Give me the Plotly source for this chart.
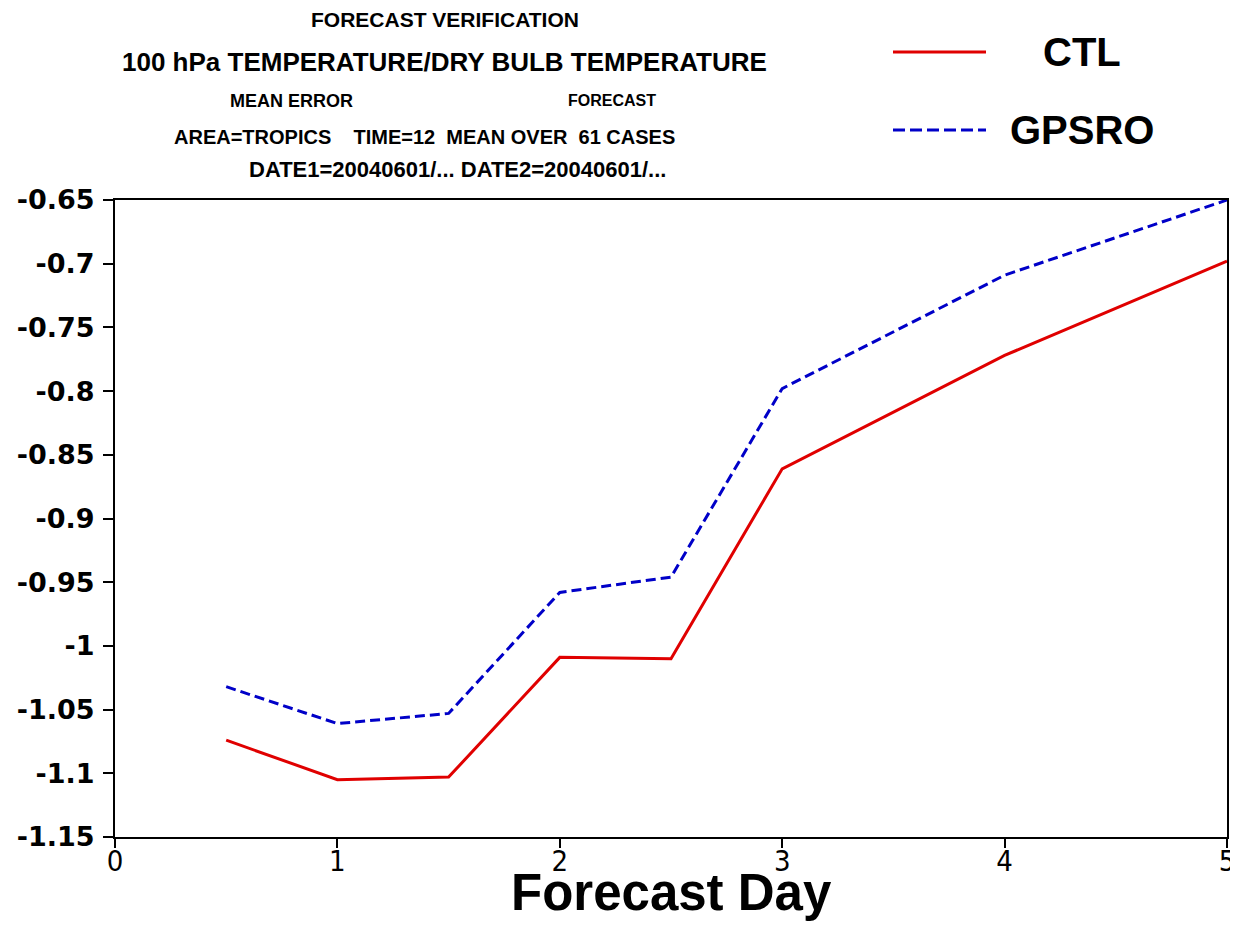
import plotly.graph_objects as go

# forecast day and mean error values
dias = [0.5, 1, 1.5, 2, 2.5, 3, 4, 5]
ctl = [-1.074, -1.105, -1.103, -1.009, -1.010, -0.861, -0.772, -0.698]
gpsro = [-1.032, -1.061, -1.053, -0.958, -0.946, -0.798, -0.709, -0.650]

yticks = [-0.65, -0.7, -0.75, -0.8, -0.85, -0.9, -0.95, -1, -1.05, -1.1, -1.15]
xticks = [0, 1, 2, 3, 4, 5]

# texto, centro x, centro y (pixels da tela), tamanho
titulo = [
    ("FORECAST VERIFICATION", 445, 20, 21),
    ("100 hPa TEMPERATURE/DRY BULB TEMPERATURE", 444, 62, 26),
    ("MEAN ERROR", 291, 101, 18),
    ("FORECAST", 612, 101, 16),
    ("AREA=TROPICS &nbsp; &nbsp;TIME=12 &nbsp;MEAN OVER &nbsp;61 CASES", 424, 137, 20),
    ("DATE1=20040601/... DATE2=20040601/...", 457, 170, 22),
]

OFF = 8  # margem do body da pagina
W, H = 1238 - OFF, 934 - OFF
L, T = 115 - OFF, 200 - OFF
R = W - (1227 - OFF)
B = H - (837 - OFF)


def px2paper(x, y):
    x, y = x - OFF, y - OFF
    return (x - L) / (W - L - R), (H - B - y) / (H - T - B)


fig = go.Figure()
fig.add_trace(go.Scatter(x=dias, y=ctl, mode='lines', name='CTL',
                         line=dict(color='#e00000', width=3)))
fig.add_trace(go.Scatter(x=dias, y=gpsro, mode='lines', name='GPSRO',
                         line=dict(color='#0000c8', width=3, dash='10px,5px')))

anns = []
for txt, x, y, sz in titulo:
    xp, yp = px2paper(x, y)
    anns.append(dict(text='<b>' + txt + '</b>', x=xp, y=yp, xref='paper', yref='paper',
                     showarrow=False, xanchor='center', yanchor='middle',
                     font=dict(family='Liberation Sans', size=sz, color='black')))

# legenda desenhada a mao, como no original
shapes = []
for nome, cor, dash, y, xt in [('CTL', '#e00000', 'solid', 52, 1082), ('GPSRO', '#0000c8', '12px,5px', 130, 1082)]:
    x0, yp = px2paper(893, y)
    x1, _ = px2paper(986, y)
    shapes.append(dict(type='line', xref='paper', yref='paper', x0=x0, x1=x1, y0=yp, y1=yp,
                       line=dict(color=cor, width=3, dash=dash)))
    xtp, _ = px2paper(xt, y)
    anns.append(dict(text='<b>' + nome + '</b>', x=xtp, y=yp, xref='paper', yref='paper',
                     showarrow=False, xanchor='center', yanchor='middle',
                     font=dict(family='Liberation Sans', size=40, color='black')))

# titulo do eixo x
xp, yp = px2paper(671, 892)
anns.append(dict(text='<b>Forecast Day</b>', x=xp, y=yp, xref='paper', yref='paper',
                 showarrow=False, xanchor='center', yanchor='middle',
                 font=dict(family='Liberation Sans', size=51, color='black')))

fig.update_layout(
    width=W, height=H,
    margin=dict(l=L, r=R, t=T, b=B),
    paper_bgcolor='white', plot_bgcolor='white',
    showlegend=False,
    annotations=anns, shapes=shapes,
    xaxis=dict(range=[0, 5], tickvals=xticks, ticktext=[str(v) for v in xticks],
               automargin=False, ticklabelstandoff=-12,
               showgrid=False, zeroline=False, showline=True, linecolor='black', linewidth=2,
               mirror=True, ticks='outside', ticklen=9, tickwidth=2, tickcolor='black',
               tickfont=dict(family='DejaVu Sans Condensed', size=29, color='black')),
    yaxis=dict(range=[-1.15, -0.65], tickvals=yticks, ticktext=[f'{v:g}' for v in yticks],
               automargin=False, ticklabelstandoff=3,
               showgrid=False, zeroline=False, showline=True, linecolor='black', linewidth=2,
               mirror=True, ticks='outside', ticklen=10, tickwidth=2, tickcolor='black',
               tickfont=dict(family='DejaVu Sans', size=27, color='black', weight='bold')),
)

fig.write_html("out.html")
